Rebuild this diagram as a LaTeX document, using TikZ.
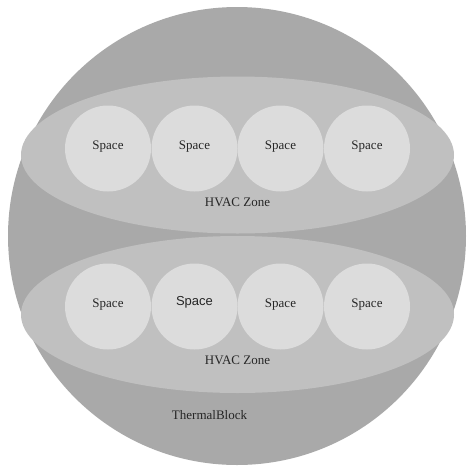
\documentclass[tikz,border=0pt]{standalone}
\usepackage{fontspec}
\setmainfont{Liberation Serif}
\newfontfamily\spacesans{Liberation Sans}
\definecolor{blockgray}{RGB}{169,169,169}
\definecolor{zonegray} {RGB}{192,192,192}
\definecolor{spacegray}{RGB}{220,220,220}
\usetikzlibrary{shapes.geometric,positioning}
\tikzset{
  blockshape/.style={circle,fill=blockgray,minimum size=458pt,inner sep=0pt},
  zoneshape/.style={ellipse,fill=zonegray,minimum width=433pt,
                    minimum height=157pt,inner sep=0pt},
  spaceshape/.style={circle,fill=spacegray,minimum size=86pt,inner sep=0pt},
  lab/.style={font=\fontsize{13}{15}\selectfont,text=black!85,inner sep=0pt},
}
\begin{document}
\begin{tikzpicture}[x=1pt,y=-1pt]
  \useasboundingbox[fill=white] (0,0) rectangle (474,472);
  \node[blockshape] (block) at (237,236) {};
  \node[zoneshape] (zoneA) at (237.5,155) {};
  \node[zoneshape] (zoneB) at (237.5,314.5) {};
  \foreach \i/\x in {1/108,2/194.5,3/280.5,4/367}{
    \node[spaceshape] (spA\i) at (\x,148.5) {};
    \node[spaceshape] (spB\i) at (\x,306.5) {};
    \node[lab] (tA\i) at ([yshift=2pt]spA\i.center) {Space};
  }
  \foreach \i in {1,3,4}
    \node[lab] (tB\i) at ([yshift=2pt]spB\i.center) {Space};
  \node[lab,font=\spacesans\fontsize{13}{15}\selectfont]
       (tB2) at ([yshift=4pt]spB2.center) {Space};
  \node[lab] (zA) at (237.5,202.5) {HVAC Zone};
  \node[lab] (zB) at (237.5,360) {HVAC Zone};
  \node[lab] (tblock) at (209.5,415) {ThermalBlock};
\end{tikzpicture}
\end{document}
